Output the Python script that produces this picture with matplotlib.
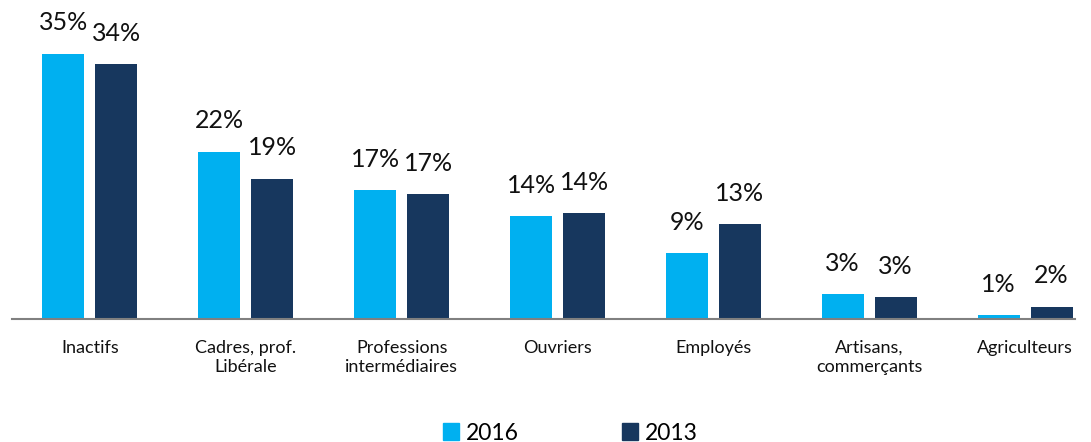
import matplotlib.pyplot as plt
import matplotlib.patches as mpatches
import numpy as np

# data
categories = ['Inactifs', 'Cadres, prof.\nLibérale', 'Professions\nintermédiaires',
              'Ouvriers', 'Employés', 'Artisans,\ncommerçants', 'Agriculteurs']
vals_2016 = [35.0, 22.1, 17.0, 13.6, 8.7, 3.3, 0.5]
vals_2013 = [33.6, 18.5, 16.5, 14.0, 12.5, 2.9, 1.6]
labels_2016 = ['35%', '22%', '17%', '14%', '9%', '3%', '1%']
labels_2013 = ['34%', '19%', '17%', '14%', '13%', '3%', '2%']

c2016 = '#00B0F0'
c2013 = '#17375E'

plt.rcParams['font.family'] = ['Lato', 'DejaVu Sans']

fig = plt.figure(figsize=(10.91, 4.42), dpi=100)
ax = fig.add_axes([12 / 1091, 123 / 442, 1063 / 1091, 303 / 442])

x = np.arange(len(categories))
w = 0.27
off = 0.17
b1 = ax.bar(x - off, vals_2016, w, color=c2016)
b2 = ax.bar(x + off, vals_2013, w, color=c2013)

# value labels
for bars, labs in ((b1, labels_2016), (b2, labels_2013)):
    for b, lab in zip(bars, labs):
        ax.annotate(lab, (b.get_x() + b.get_width() / 2, b.get_height()),
                    xytext=(0, 14), textcoords='offset points',
                    ha='center', va='bottom', fontsize=18, color='#111111',
                    annotation_clip=False)

ax.set_xlim(-0.5, 6.32)
ax.set_ylim(0, 40)
ax.set_yticks([])
ax.set_xticks(x)
ax.set_xticklabels(categories, fontsize=13, color='#111111', linespacing=1.25)
ax.tick_params(axis='x', length=0, pad=15)
for s in ['top', 'right', 'left']:
    ax.spines[s].set_visible(False)
ax.spines['bottom'].set_color('#808080')
ax.spines['bottom'].set_linewidth(1.5)

# legend
handles = [mpatches.Patch(color=c2016, label='2016'),
           mpatches.Patch(color=c2013, label='2013')]
fig.legend(handles=handles, loc='center', bbox_to_anchor=(570 / 1091, 1 - 433 / 442),
           ncol=2, frameon=False, fontsize=16.5, handlelength=0.7, handleheight=0.7,
           handletextpad=0.3, columnspacing=4.5)

fig.savefig('out.png', dpi=100)
